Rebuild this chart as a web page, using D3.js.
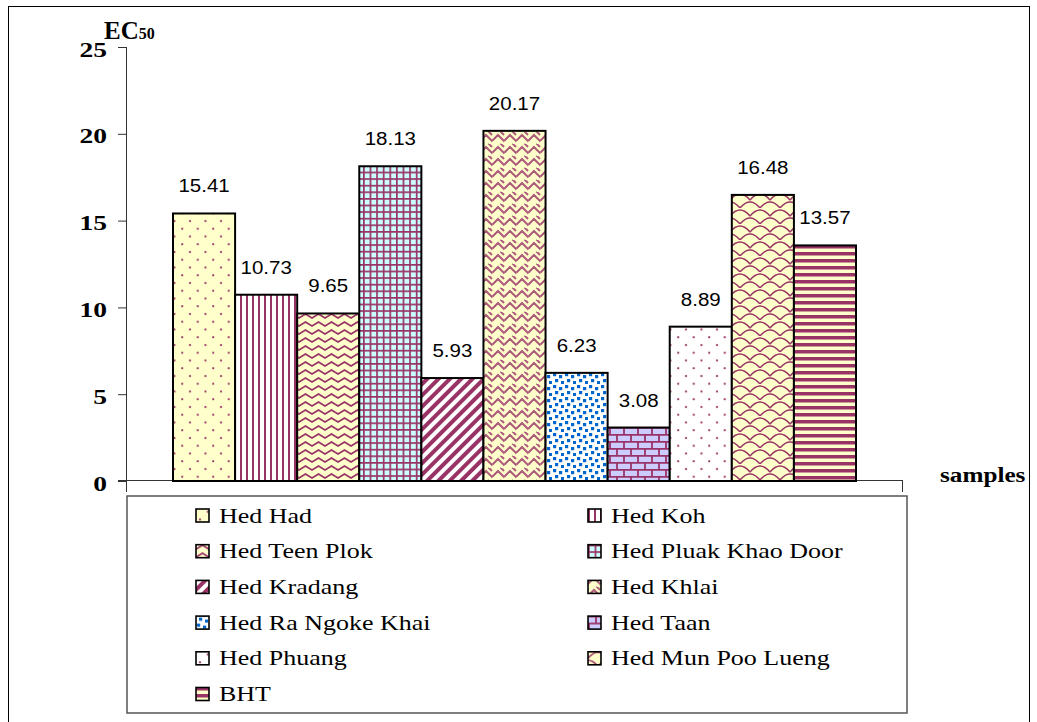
<!DOCTYPE html>
<html>
<head>
<meta charset="utf-8">
<script src="https://cdn.jsdelivr.net/npm/d3@7"></script>
<style>
  html, body { margin: 0; padding: 0; background: #fff; }
  svg { display: block; }
</style>
</head>
<body>
<script>
// EC50 values of the samples
const categories = ["Hed Had", "Hed Koh", "Hed Teen Plok", "Hed Pluak Khao Door", "Hed Kradang",
  "Hed Khlai", "Hed Ra Ngoke Khai", "Hed Taan", "Hed Phuang", "Hed Mun Poo Lueng", "BHT"];
const values = [15.41, 10.73, 9.65, 18.13, 5.93, 20.17, 6.23, 3.08, 8.89, 16.48, 13.57];
const yTicks = [0, 5, 10, 15, 20, 25];
const patternIds = ["pDots", "pVert", "pWave", "pGrid", "pDiag", "pWeave", "pConfetti", "pBrick", "pDotsW", "pShingle", "pHoriz"];

const W = 1037, H = 722;
const plum = "#993366";
const serif = "'Liberation Serif', 'Times New Roman', Times, serif";
const sans = "'Liberation Sans', Arial, Helvetica, sans-serif";
const svg = d3.select("body").append("svg").attr("width", W).attr("height", H);
const defs = svg.append("defs");

// ---- fill patterns ----
function pat(id, w, h, bg, attrs) {
  const p = defs.append("pattern").attr("id", id).attr("patternUnits", "userSpaceOnUse")
    .attr("width", w).attr("height", h);
  if (attrs) Object.entries(attrs).forEach(([k, v]) => p.attr(k, v));
  p.append("rect").attr("width", w).attr("height", h).attr("fill", bg);
  return p;
}
// dotted on light yellow
let p = pat("pDots", 15.5, 15.5, "#FFFFCC");
[[4, 4], [11.75, 11.75]].forEach(([cx, cy]) => p.append("circle").attr("cx", cx).attr("cy", cy).attr("r", 1.1).attr("fill", plum));
// dotted on white
p = pat("pDotsW", 15.5, 15.5, "#FFFFFF");
[[4, 4], [11.75, 11.75]].forEach(([cx, cy]) => p.append("circle").attr("cx", cx).attr("cy", cy).attr("r", 1.1).attr("fill", plum));
// narrow vertical
p = pat("pVert", 6, 6, "#FFFFFF");
p.append("rect").attr("x", 0).attr("width", 2).attr("height", 6).attr("fill", plum);
// wave
p = pat("pWave", 13, 8, "#FFFFCC");
p.append("path").attr("d", "M-3.25,4 L0,6 L6.5,2 L13,6 L16.25,4").attr("fill", "none")
  .attr("stroke", plum).attr("stroke-width", 1.8);
// grid on light cyan
p = pat("pGrid", 6.6, 6.6, "#CCFFFF");
p.append("rect").attr("width", 1.7).attr("height", 6.6).attr("fill", plum);
p.append("rect").attr("width", 6.6).attr("height", 1.7).attr("fill", plum);
// wide upward diagonal
p = pat("pDiag", 8, 8, "#FFFFFF", { patternTransform: "rotate(45)" });
p.append("rect").attr("width", 4).attr("height", 8).attr("fill", plum);
// weave
p = pat("pWeave", 12, 12, "#FFFFCC");
p.append("path").attr("d", "M0,9 L6,3 L12,9 M-6,9 L0,15 M6,-3 L12,3 M12,9 L18,15 M0,3 L-3,0 M6,15 L9,12")
  .attr("fill", "none").attr("stroke", plum).attr("stroke-width", 2).attr("opacity", 0.8);
// large confetti
p = pat("pConfetti", 12, 12, "#FFFFFF");
[[1, 1], [7, 3], [3, 7], [9, 9]].forEach(([x, y]) => p.append("rect").attr("x", x).attr("y", y)
  .attr("width", 3.2).attr("height", 3.2).attr("fill", "#0066CC"));
// horizontal brick on lavender
p = pat("pBrick", 14, 14, "#CCCCFF");
p.append("path").attr("d", "M0,0.8 H14 M0,7.8 H14 M1,0 V7 M8,7 V14").attr("stroke", plum).attr("stroke-width", 1.8);
// shingle
p = pat("pShingle", 20, 16, "#FFFFCC");
p.append("path").attr("d", "M0,16 Q10,4 20,16 M-10,8 Q0,-4 10,8 M10,8 Q20,-4 30,8").attr("fill", "none")
  .attr("stroke", plum).attr("stroke-width", 1.5);
// dark horizontal
p = pat("pHoriz", 7, 7, "#FFFFCC");
p.append("rect").attr("width", 7).attr("height", 3.5).attr("fill", plum);

// ---- outer frame ----
svg.append("rect").attr("x", 8.5).attr("y", 6.5).attr("width", 1021).attr("height", 740)
  .attr("fill", "none").attr("stroke", "#000").attr("stroke-width", 1);

// ---- scales ----
const axisLeft = 126, axisRight = 903;
const y = d3.scaleLinear().domain([0, 25]).range([481, 47]);
const outer = 47;
const x = d3.scaleBand().domain(categories).range([axisLeft + outer, axisRight - outer]).paddingInner(0);

// ---- axes ----
const yAxis = svg.append("g").attr("transform", `translate(${axisLeft},0)`)
  .call(d3.axisLeft(y).tickValues(yTicks).tickSize(8).tickFormat(""));
yAxis.select(".domain").remove();
yAxis.selectAll(".tick line").attr("stroke", "#333");
svg.append("line").attr("x1", axisLeft + 0.5).attr("x2", axisLeft + 0.5).attr("y1", y(25)).attr("y2", 492)
  .attr("stroke", "#333");
svg.append("line").attr("x1", axisLeft - 8).attr("x2", axisRight).attr("y1", y(0) - 0.5).attr("y2", y(0) - 0.5)
  .attr("stroke", "#333");
svg.append("line").attr("x1", axisRight - 0.5).attr("x2", axisRight - 0.5).attr("y1", y(0)).attr("y2", 492)
  .attr("stroke", "#333");

svg.append("g").selectAll("text").data(yTicks).join("text")
  .attr("transform", d => `translate(107,${y(d) + 2}) scale(1.25,1)`)
  .attr("text-anchor", "end").attr("dominant-baseline", "central")
  .style("font-family", serif).attr("font-weight", "bold")
  .attr("font-size", 22).text(d => d);

// axis titles
const ec = svg.append("text").attr("x", 104).attr("y", 39)
  .style("font-family", serif).attr("font-weight", "bold");
ec.append("tspan").attr("font-size", 25).text("EC");
ec.append("tspan").attr("font-size", 16).text("50");

svg.append("text").attr("transform", "translate(940,482) scale(1.2,1)")
  .style("font-family", serif).attr("font-weight", "bold")
  .attr("font-size", 21).text("samples");

// ---- bars ----
const data = categories.map((c, i) => ({ c, v: values[i], pid: patternIds[i] }));
svg.append("g").selectAll("rect").data(data).join("rect")
  .attr("x", d => x(d.c)).attr("width", x.bandwidth())
  .attr("y", d => y(d.v)).attr("height", d => y(0) - y(d.v))
  .attr("fill", d => `url(#${d.pid})`).attr("stroke", "#000").attr("stroke-width", 2);

svg.append("g").selectAll("text").data(data).join("text")
  .attr("transform", d => `translate(${x(d.c) + x.bandwidth() / 2},${y(d.v) - 21}) scale(1.08,1)`)
  .attr("text-anchor", "middle")
  .style("font-family", sans).attr("font-size", 19)
  .text(d => d.v.toFixed(2));

// ---- legend ----
svg.append("rect").attr("x", 127).attr("y", 496).attr("width", 780).attr("height", 217)
  .attr("fill", "#fff").attr("stroke", "#555").attr("stroke-width", 1.5);
const cols = [196, 588];
const lg = svg.append("g").selectAll("g").data(data).join("g")
  .attr("transform", (d, i) => `translate(${cols[i % 2]},${515.5 + Math.floor(i / 2) * 35.7})`);
lg.append("rect").attr("x", 0).attr("y", -6.5).attr("width", 13).attr("height", 13)
  .attr("fill", d => `url(#${d.pid})`).attr("stroke", "#000").attr("stroke-width", 1.6);
lg.append("text").attr("transform", "translate(23,7) scale(1.3,1)")
  .style("font-family", serif).attr("font-size", 20)
  .text(d => d.c);
</script>
</body>
</html>
